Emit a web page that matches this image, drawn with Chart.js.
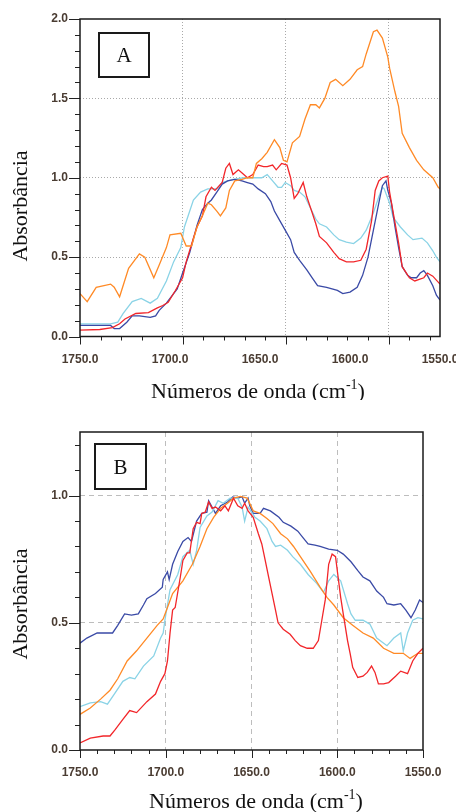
<!DOCTYPE html>
<html>
<head>
<meta charset="utf-8">
<script src="https://cdn.jsdelivr.net/npm/chart.js@4.4.1/dist/chart.umd.min.js"></script>
<style>
  html, body { margin: 0; padding: 0; background: #fff; }
  #wrap { position: relative; width: 456px; height: 812px; }
  canvas { position: absolute; left: 0; }
</style>
</head>
<body>
<div id="wrap">
  <canvas id="chartA" width="456" height="400" style="top:0"></canvas>
  <canvas id="chartB" width="456" height="400" style="top:412px"></canvas>
</div>
<script>
const X_LABELS = [1750, 1700, 1650, 1600, 1550];
const A_Y_LABELS = [0, 0.5, 1, 1.5, 2];
const B_Y_LABELS = [0, 0.5, 1];
// panel A grid belongs to the instrument axis (ends near 1575), not to the labels
const A_GRID_X = [1700, 1650, 1600];
const B_GRID_X = [1700, 1650, 1600];
const A_GRID_Y = [0.5, 1, 1.5];
const B_GRID_Y = [0.5, 1];

const Y_TITLE = "Absorbância";
const X_TITLE = ["Números de onda (cm", "-1", ")"];

// [wavenumber cm-1, absorbance]
const A_ORANGE = [[1750,0.27],[1746,0.22],[1741,0.31],[1733,0.33],[1731,0.31],[1728,0.25],[1723,0.43],[1717,0.52],[1714,0.50],[1709,0.37],[1706,0.45],[1702,0.56],[1700,0.64],[1694,0.65],[1691,0.57],[1688,0.57],[1685,0.69],[1682,0.76],[1679,0.84],[1677,0.83],[1674,0.79],[1672,0.76],[1669,0.81],[1667,0.92],[1664,0.98],[1660,0.99],[1657,1.00],[1654,1.00],[1652,1.09],[1649,1.12],[1646,1.16],[1642,1.24],[1639,1.19],[1637,1.11],[1635,1.10],[1632,1.22],[1628,1.26],[1625,1.37],[1622,1.46],[1619,1.46],[1617,1.44],[1614,1.50],[1611,1.60],[1608,1.62],[1604,1.58],[1600,1.62],[1596,1.68],[1593,1.70],[1591,1.78],[1587,1.92],[1585,1.93],[1582,1.88],[1579,1.76],[1578,1.69],[1575,1.54],[1573,1.45],[1571,1.28],[1567,1.19],[1563,1.11],[1559,1.05],[1554,1.00],[1551,0.94],[1550,0.93]];
const A_RED = [[1750,0.04],[1739,0.044],[1732,0.056],[1728,0.08],[1725,0.11],[1719,0.145],[1712,0.15],[1707,0.18],[1704,0.195],[1701,0.215],[1697,0.29],[1693,0.37],[1691,0.47],[1687,0.62],[1685,0.69],[1682,0.76],[1680,0.88],[1677,0.94],[1675,0.92],[1671,0.97],[1669,1.06],[1667,1.09],[1665,1.02],[1662,1.05],[1659,1.02],[1657,1.00],[1654,1.02],[1651,1.08],[1648,1.07],[1646,1.07],[1643,1.08],[1641,1.05],[1638,1.09],[1635,1.08],[1633,1.00],[1631,0.87],[1629,0.90],[1626,0.97],[1624,0.88],[1621,0.78],[1619,0.71],[1617,0.63],[1613,0.59],[1609,0.53],[1606,0.49],[1602,0.47],[1598,0.47],[1594,0.48],[1591,0.55],[1588,0.73],[1586,0.92],[1584,0.98],[1582,1.00],[1579,1.01],[1578,0.91],[1576,0.78],[1573,0.59],[1571,0.44],[1567,0.37],[1564,0.35],[1559,0.37],[1557,0.40],[1554,0.38],[1550,0.33]];
const A_BLUE = [[1750,0.07],[1733,0.07],[1731,0.05],[1728,0.05],[1724,0.09],[1721,0.13],[1717,0.13],[1711,0.12],[1708,0.13],[1706,0.165],[1702,0.21],[1700,0.24],[1696,0.30],[1693,0.40],[1689,0.53],[1685,0.70],[1682,0.80],[1679,0.84],[1677,0.86],[1674,0.91],[1671,0.96],[1668,0.98],[1664,0.99],[1660,0.98],[1657,0.97],[1654,0.96],[1651,0.93],[1647,0.90],[1644,0.85],[1642,0.79],[1639,0.73],[1636,0.67],[1633,0.61],[1631,0.53],[1628,0.48],[1624,0.42],[1621,0.37],[1618,0.32],[1613,0.31],[1607,0.29],[1604,0.27],[1600,0.28],[1596,0.31],[1593,0.385],[1590,0.50],[1587,0.67],[1584,0.84],[1582,0.95],[1580,0.98],[1579,0.92],[1577,0.84],[1575,0.69],[1573,0.56],[1571,0.44],[1568,0.385],[1566,0.37],[1563,0.37],[1561,0.40],[1559,0.415],[1557,0.385],[1554,0.32],[1552,0.26],[1550,0.23]];
const A_CYAN = [[1750,0.08],[1733,0.08],[1729,0.09],[1726,0.145],[1721,0.22],[1716,0.24],[1711,0.21],[1707,0.24],[1702,0.35],[1698,0.47],[1694,0.56],[1692,0.69],[1687,0.86],[1683,0.91],[1679,0.93],[1674,0.93],[1671,0.97],[1665,0.99],[1659,1.00],[1654,1.00],[1649,1.00],[1646,1.02],[1643,0.98],[1640,0.94],[1638,0.94],[1636,0.97],[1633,0.95],[1631,0.92],[1628,0.91],[1625,0.88],[1622,0.81],[1619,0.74],[1617,0.71],[1613,0.69],[1609,0.64],[1606,0.61],[1602,0.595],[1598,0.585],[1594,0.62],[1591,0.67],[1587,0.78],[1584,0.88],[1582,0.94],[1581,0.93],[1578,0.84],[1576,0.75],[1572,0.69],[1568,0.64],[1565,0.61],[1560,0.62],[1557,0.59],[1554,0.54],[1552,0.50],[1550,0.47]];

const B_BLUE = [[1750,0.42],[1746,0.44],[1740,0.46],[1737,0.46],[1731,0.46],[1728,0.49],[1724,0.535],[1720,0.53],[1716,0.535],[1713,0.57],[1711,0.595],[1706,0.615],[1702,0.64],[1701.5,0.67],[1699,0.70],[1698,0.67],[1696,0.73],[1693,0.78],[1690,0.82],[1687,0.835],[1685,0.82],[1682,0.90],[1679,0.93],[1676,0.935],[1675,0.98],[1673,0.955],[1671,0.93],[1668,0.96],[1664,0.975],[1661,0.995],[1658,0.99],[1655.5,0.995],[1654,0.97],[1652,0.99],[1651,0.96],[1649,0.93],[1645,0.93],[1643,0.95],[1639,0.94],[1634,0.915],[1631.5,0.895],[1627,0.88],[1623,0.86],[1620,0.835],[1617,0.81],[1613,0.805],[1610,0.80],[1605,0.79],[1600,0.785],[1596.5,0.77],[1592,0.74],[1588,0.705],[1585,0.68],[1581,0.665],[1577,0.625],[1573,0.60],[1571,0.575],[1567,0.57],[1563,0.575],[1560,0.55],[1557,0.52],[1554.5,0.55],[1552,0.59],[1550,0.58]];
const B_CYAN = [[1750,0.17],[1744,0.185],[1738,0.19],[1734,0.18],[1730,0.22],[1725,0.27],[1721,0.285],[1718,0.28],[1713,0.33],[1707,0.37],[1703,0.44],[1701.5,0.46],[1700.5,0.51],[1697.5,0.63],[1693,0.69],[1690,0.76],[1686,0.785],[1684,0.73],[1682,0.785],[1680,0.875],[1676,0.92],[1673,0.935],[1669.5,0.98],[1666.5,0.97],[1662.5,0.99],[1658,0.99],[1655.5,0.955],[1654,0.90],[1652,0.955],[1649.5,0.93],[1648,0.915],[1645,0.90],[1641,0.87],[1638,0.82],[1636,0.80],[1633,0.805],[1629,0.785],[1626,0.76],[1621.5,0.73],[1617,0.69],[1612,0.655],[1608,0.62],[1605,0.665],[1602,0.69],[1598,0.665],[1594,0.575],[1592,0.535],[1589.5,0.51],[1585,0.51],[1581,0.495],[1577,0.44],[1571,0.41],[1567,0.44],[1563,0.46],[1561.5,0.39],[1559,0.46],[1556,0.51],[1553,0.52],[1550,0.515]];
const B_ORANGE = [[1750,0.14],[1744,0.165],[1738,0.20],[1732.5,0.235],[1728,0.28],[1722.5,0.35],[1717,0.39],[1711,0.44],[1705,0.49],[1701.5,0.515],[1699,0.56],[1696,0.615],[1690,0.665],[1684.5,0.73],[1680,0.80],[1676,0.87],[1672,0.915],[1668,0.95],[1664,0.97],[1660.5,0.99],[1656.5,0.997],[1652.5,0.99],[1649,0.94],[1645,0.93],[1641,0.91],[1637.5,0.89],[1633,0.85],[1629,0.83],[1625.5,0.80],[1621.5,0.76],[1616,0.705],[1610,0.64],[1606,0.60],[1602,0.57],[1596.5,0.52],[1591,0.49],[1585,0.46],[1579,0.44],[1573,0.40],[1567,0.38],[1561.5,0.38],[1557.5,0.36],[1553,0.38],[1550,0.38]];
const B_RED = [[1750,0.028],[1744,0.047],[1736.5,0.055],[1732.5,0.055],[1729.5,0.08],[1725,0.12],[1721,0.155],[1717,0.147],[1711,0.19],[1706,0.22],[1703,0.27],[1700.5,0.30],[1699,0.35],[1697.5,0.46],[1696,0.55],[1694.5,0.56],[1691.5,0.68],[1690,0.745],[1687.5,0.775],[1686,0.775],[1684,0.87],[1682,0.895],[1680,0.89],[1679,0.93],[1677,0.935],[1675,0.975],[1673,0.95],[1671,0.955],[1668,0.94],[1665.5,0.96],[1663.5,0.94],[1660.5,0.99],[1658,0.96],[1655.5,0.95],[1654,0.97],[1652,0.94],[1649,0.915],[1646,0.85],[1644,0.81],[1642,0.745],[1640,0.68],[1638,0.615],[1636,0.55],[1634.5,0.50],[1631.5,0.475],[1627.5,0.455],[1624.5,0.43],[1621.5,0.41],[1617.5,0.40],[1614,0.40],[1611,0.43],[1609,0.51],[1607,0.59],[1605,0.73],[1603,0.77],[1601,0.76],[1599.5,0.68],[1598,0.60],[1596.5,0.535],[1594,0.43],[1592.5,0.38],[1591,0.325],[1588,0.285],[1585,0.29],[1582.5,0.305],[1580,0.33],[1578,0.305],[1576,0.26],[1573,0.26],[1570,0.265],[1566,0.29],[1563,0.31],[1559,0.30],[1556,0.35],[1553,0.38],[1550,0.40]];

const COLORS = { orange: "#ff8a26", cyan: "#8ad3e6", red: "#f2262a", blue: "#3a4aa6" };
const TICK_COLOR = "#4a3c32";

function range(from, to, step) {
  const out = [];
  for (let i = 0; from + i * step <= to + 1e-9; i++) out.push(+(from + i * step).toFixed(3));
  return out;
}

function isMultiple(v, m) {
  const q = v / m;
  return Math.abs(q - Math.round(q)) < 1e-6;
}

const framePlugin = {
  id: "frame",
  afterDraw(chart, args, o) {
    const { ctx, chartArea: a } = chart;
    const xs = chart.scales[o.tickAxis];
    const ys = chart.scales.y;
    ctx.save();
    ctx.strokeStyle = "#222";
    ctx.lineWidth = 1;
    ctx.beginPath();
    o.xTicks.forEach((v) => {
      const px = Math.round(xs.getPixelForValue(v)) + 0.5;
      const len = isMultiple(v, 50) ? 8 : 4;
      ctx.moveTo(px, a.bottom);
      ctx.lineTo(px, a.bottom + len);
    });
    o.yTicks.forEach((v) => {
      const py = Math.round(ys.getPixelForValue(v)) + 0.5;
      const len = isMultiple(v, 0.5) ? 11 : 5;
      ctx.moveTo(a.left - len, py);
      ctx.lineTo(a.left, py);
    });
    ctx.stroke();

    ctx.lineWidth = 1.5;
    ctx.strokeStyle = "#1a1a1a";
    ctx.strokeRect(a.left, a.top, a.right - a.left, a.bottom - a.top);

    // boxed panel letter
    const b = o.box;
    ctx.lineWidth = 2;
    ctx.strokeRect(b.x, b.y, b.w, b.h);
    ctx.fillStyle = "#111";
    ctx.textAlign = "center";
    ctx.textBaseline = "alphabetic";
    ctx.font = '21px "Liberation Serif"';
    ctx.fillText(o.letter, b.x + b.w / 2, b.y + b.h / 2 + 7);

    // axis titles
    ctx.font = '22px "Liberation Serif"';
    ctx.save();
    ctx.translate(o.yTitle.x, o.yTitle.y);
    ctx.rotate(-Math.PI / 2);
    ctx.fillText(Y_TITLE, 0, 0);
    ctx.restore();

    const [main, sup, end] = X_TITLE;
    ctx.font = '22px "Liberation Serif"';
    const w1 = ctx.measureText(main).width;
    const w3 = ctx.measureText(end).width;
    ctx.font = '14px "Liberation Serif"';
    const w2 = ctx.measureText(sup).width;
    const x0 = o.xTitle.x - (w1 + w2 + w3) / 2;
    ctx.textAlign = "left";
    ctx.font = '22px "Liberation Serif"';
    ctx.fillText(main, x0, o.xTitle.y);
    ctx.fillText(end, x0 + w1 + w2, o.xTitle.y);
    ctx.font = '14px "Liberation Serif"';
    ctx.fillText(sup, x0 + w1, o.xTitle.y - 9);
    ctx.restore();
  },
};

function lineSet(points, color) {
  return {
    data: points.map(([x, y]) => ({ x, y })),
    borderColor: color,
    borderWidth: 1.3,
    pointRadius: 0,
    tension: 0,
    fill: false,
  };
}

function makeChart(id, p) {
  const tickFont = { family: '"Liberation Sans"', size: 12, weight: "bold" };
  const scales = {
    x: {
      type: "linear",
      min: 1550,
      max: 1750,
      reverse: true,
      afterBuildTicks: (s) => { s.ticks = X_LABELS.map((v) => ({ value: v })); },
      afterFit: (s) => { s.height = p.xAxisHeight; s.paddingLeft = 0; s.paddingRight = 0; },
      ticks: {
        autoSkip: false,
        maxRotation: 0,
        padding: p.xLabelPad,
        color: TICK_COLOR,
        font: tickFont,
        callback: (v) => Number(v).toFixed(1),
      },
      grid: {
        display: p.gridOnLabels,
        drawTicks: false,
        lineWidth: 1,
        color: (c) => (p.gridX.includes(c.tick && c.tick.value) ? p.gridColor : "rgba(0,0,0,0)"),
      },
      border: { display: false, dash: p.dash },
    },
    y: {
      min: 0,
      max: p.yMax,
      afterBuildTicks: (s) => { s.ticks = p.yLabels.map((v) => ({ value: v })); },
      afterFit: (s) => { s.width = 80; s.paddingTop = 0; s.paddingBottom = 0; },
      ticks: {
        padding: 12,
        color: TICK_COLOR,
        font: tickFont,
        callback: (v) => Number(v).toFixed(1),
      },
      grid: {
        drawTicks: false,
        lineWidth: 1,
        color: (c) => (p.gridY.includes(c.tick && c.tick.value) ? p.gridColor : "rgba(0,0,0,0)"),
      },
      border: { display: false, dash: p.dash },
    },
  };
  if (p.instrumentAxis) {
    // hidden axis of the original instrument scale, carries grid and tick marks
    scales.xg = {
      type: "linear",
      position: "top",
      min: p.instrumentAxis[0],
      max: p.instrumentAxis[1],
      reverse: true,
      afterBuildTicks: (s) => { s.ticks = p.gridX.map((v) => ({ value: v })); },
      afterFit: (s) => { s.height = 0; s.paddingLeft = 0; s.paddingRight = 0; },
      ticks: { display: false },
      grid: { drawTicks: false, lineWidth: 1, color: p.gridColor },
      border: { display: false, dash: p.dash },
    };
  }

  return new Chart(document.getElementById(id), {
    type: "line",
    data: { datasets: p.series.map(([pts, col]) => lineSet(pts, col)) },
    options: {
      responsive: false,
      animation: false,
      events: [],
      layout: { padding: p.padding },
      plugins: {
        legend: { display: false },
        tooltip: { enabled: false },
        frame: p.frame,
      },
      scales,
    },
    plugins: [framePlugin],
  });
}

makeChart("chartA", {
  series: [[A_ORANGE, COLORS.orange], [A_RED, COLORS.red], [A_BLUE, COLORS.blue], [A_CYAN, COLORS.cyan]],
  yMax: 2,
  yLabels: A_Y_LABELS,
  gridX: A_GRID_X,
  gridY: A_GRID_Y,
  gridOnLabels: false,
  instrumentAxis: [1575, 1750],
  gridColor: "#a9a9a9",
  dash: [1, 2],
  padding: { top: 19, right: 16, bottom: 0, left: 0 },
  xAxisHeight: 63.5,
  xLabelPad: 16,
  frame: {
    tickAxis: "xg",
    xTicks: range(1580, 1750, 10),
    yTicks: range(0, 2, 0.1),
    letter: "A",
    box: { x: 99, y: 33, w: 50, h: 44 },
    yTitle: { x: 27, y: 206 },
    xTitle: { x: 258, y: 398 },
  },
});

makeChart("chartB", {
  series: [[B_RED, COLORS.red], [B_ORANGE, COLORS.orange], [B_CYAN, COLORS.cyan], [B_BLUE, COLORS.blue]],
  yMax: 1.25,
  yLabels: B_Y_LABELS,
  gridX: B_GRID_X,
  gridY: B_GRID_Y,
  gridOnLabels: true,
  instrumentAxis: null,
  gridColor: "#bdbdbd",
  dash: [5, 4],
  padding: { top: 20, right: 33, bottom: 0, left: 0 },
  xAxisHeight: 62,
  xLabelPad: 15,
  frame: {
    tickAxis: "x",
    xTicks: range(1550, 1750, 10),
    yTicks: range(0, 1.2, 0.1),
    letter: "B",
    box: { x: 95, y: 32, w: 51, h: 45 },
    yTitle: { x: 27, y: 192 },
    xTitle: { x: 256, y: 396 },
  },
});
</script>
</body>
</html>
